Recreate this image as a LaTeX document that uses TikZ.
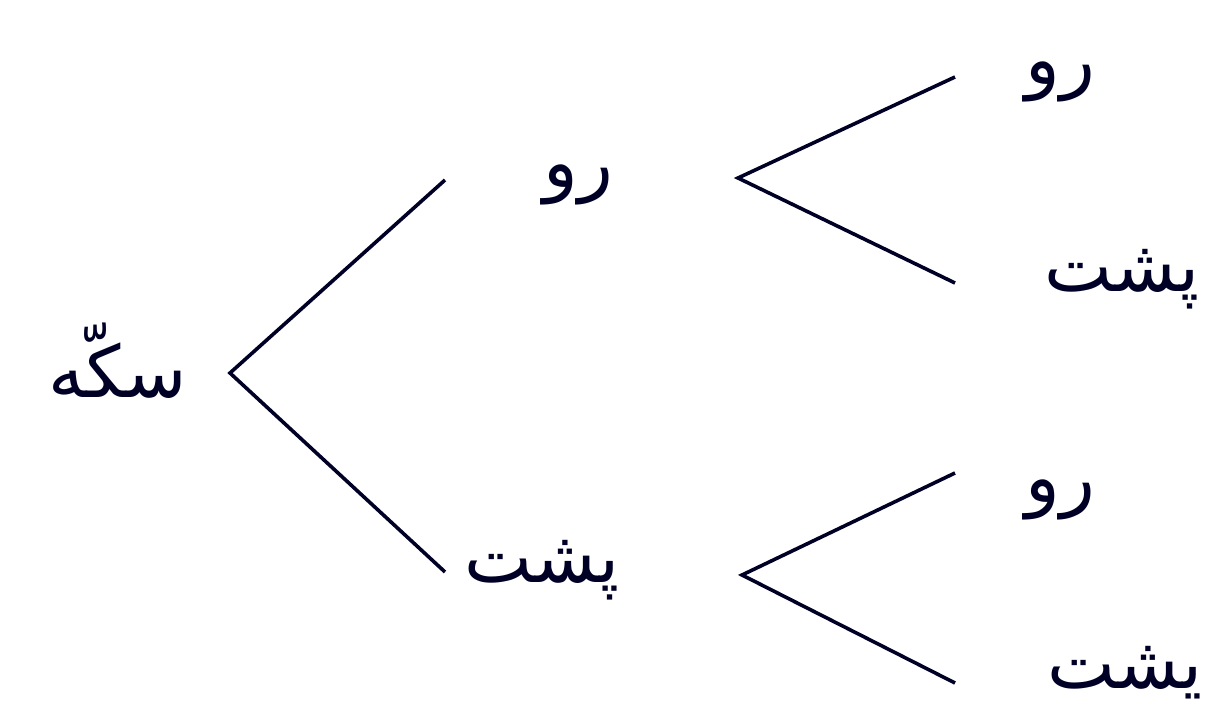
\documentclass[tikz,border=0pt]{standalone}
\usepackage{fontspec}
\TeXXeTstate=1
\newfontfamily\arabicfont[Script=Arabic]{DejaVu Sans}
\begin{document}
\begin{tikzpicture}[x=1pt,y=-1pt,
  lbl/.style={font=\arabicfont\fontsize{72}{76}\selectfont, text=black!85!blue, inner sep=0pt, anchor=base east},
  branch/.style={line width=3.6pt, draw=black!85!blue, line join=miter}]
\useasboundingbox (0,0) rectangle (1219,711);
% nodes
\node[lbl] (coin) at (187,398) {\beginR سکّه\endR};
\node[lbl] (h1) at (613,188) {\beginR رو\endR};
\node[lbl] (t1) at (620,582) {\beginR پشت\endR};
\node[lbl] (hh) at (1095,85) {\beginR رو\endR};
\node[lbl] (ht) at (1200,292) {\beginR پشت\endR};
\node[lbl] (th) at (1095,502) {\beginR رو\endR};
\node[lbl] (tt) at (1203,688) {\beginR یشت\endR};
% branch points
\coordinate (v0) at (230,373);
\coordinate (a0) at (445,180);
\coordinate (b0) at (445,572);
\coordinate (v1) at (738,178);
\coordinate (a1) at (955,77);
\coordinate (b1) at (955,283);
\coordinate (v2) at (742,575);
\coordinate (a2) at (955,473);
\coordinate (b2) at (955,683);
\draw[branch] (a0) -- (v0) -- (b0);
\draw[branch] (a1) -- (v1) -- (b1);
\draw[branch] (a2) -- (v2) -- (b2);
\end{tikzpicture}
\end{document}
